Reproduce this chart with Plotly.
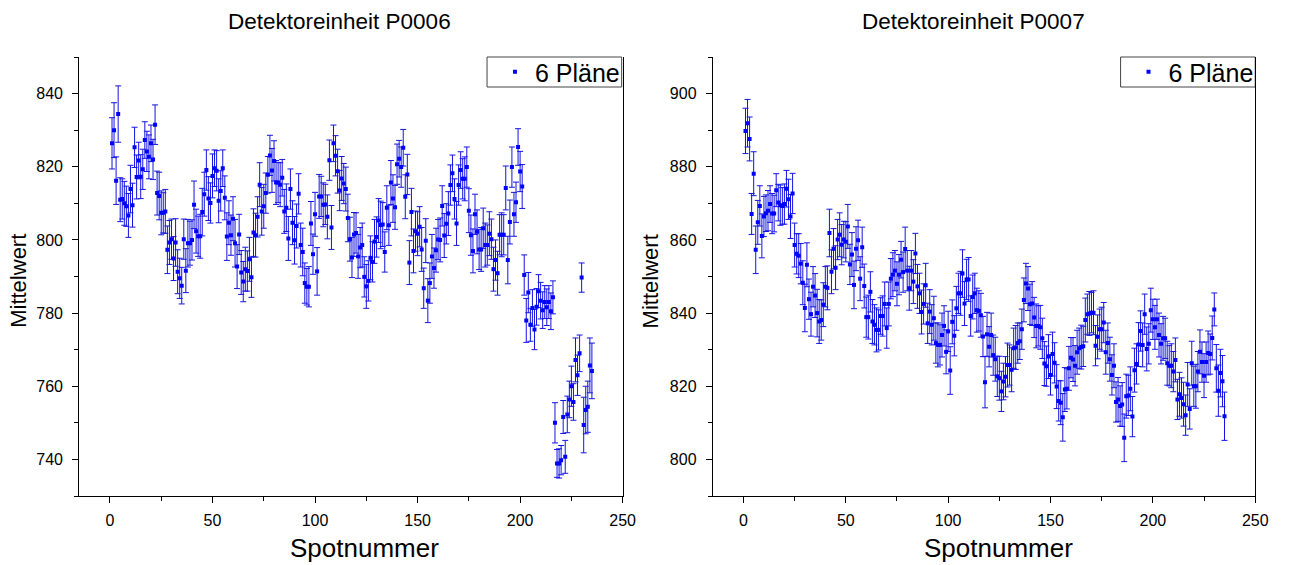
import plotly.graph_objects as go

spots = list(range(1, 236))

p0006_mean = [
    826.4, 830.0, 816.2, 834.4, 811.0, 811.2, 810.0, 809.2, 806.7, 813.9,
    809.5, 825.3, 817.2, 821.7, 817.3, 819.3, 827.3, 824.2, 822.7, 826.4,
    822.0, 831.5, 812.8, 812.0, 807.4, 807.4, 807.8, 797.3, 799.3, 800.2,
    794.9, 799.3, 791.3, 789.5, 787.5, 800.2, 791.6, 799.1, 799.1, 800.0,
    809.6, 802.4, 801.0, 801.0, 807.6, 812.5, 819.1, 811.3, 810.1, 817.5,
    819.6, 818.9, 810.7, 813.4, 819.6, 811.5, 800.9, 804.7, 801.3, 805.8,
    799.1, 792.7, 801.5, 791.1, 788.6, 792.0, 791.5, 794.7, 789.8, 802.0,
    801.3, 806.3, 815.1, 807.8, 809.2, 812.8, 817.8, 823.1, 819.0, 821.6,
    815.7, 815.7, 815.1, 817.0, 807.8, 808.8, 800.4, 813.9, 804.7, 799.9,
    803.8, 812.6, 798.6, 796.7, 788.2, 787.2, 787.2, 804.5, 796.1, 807.0,
    791.4, 811.9, 811.9, 809.6, 809.7, 806.3, 821.8, 803.4, 826.4, 823.0,
    818.8, 813.5, 816.8, 815.4, 813.9, 806.0, 800.2, 795.2, 801.5, 801.9,
    795.5, 797.9, 798.6, 789.9, 787.3, 788.8, 795.1, 794.0, 799.6, 800.8,
    805.3, 804.1, 804.2, 796.7, 808.8, 804.0, 815.7, 811.3, 808.9, 820.7,
    822.2, 819.9, 825.2, 811.8, 817.9, 793.8, 807.6, 797.0, 802.4, 801.7,
    803.6, 797.4, 786.8, 799.8, 783.4, 788.2, 795.5, 792.3, 797.2, 800.1,
    800.0, 809.3, 801.2, 804.4, 807.2, 815.0, 818.2, 811.2, 804.5, 815.0,
    819.1, 816.7, 816.7, 819.9, 808.0, 801.3, 797.0, 807.0, 802.2, 797.4,
    797.4, 803.2, 798.6, 798.6, 801.7, 800.2, 792.0, 794.5, 790.9, 801.4,
    801.4, 801.4, 814.2, 794.5, 804.9, 819.9, 807.0, 810.3, 825.4, 818.7,
    814.6, 790.4, 778.0, 785.6, 776.8, 781.4, 775.5, 781.7, 786.0, 783.4,
    780.8, 783.0, 781.6, 783.0, 780.5, 784.3, 750.0, 738.9, 738.9, 739.8,
    751.6, 740.7, 752.3, 756.4, 760.0, 755.7, 767.2, 763.0, 769.0, 789.7,
    749.4, 753.5, 754.4, 765.7, 764.2,
]

p0006_err = [
    7.0, 7.5, 6.5, 7.7, 6.0, 5.5, 6.0, 5.5, 6.0, 6.5,
    6.0, 5.5, 6.0, 5.0, 6.0, 5.5, 5.0, 5.5, 6.0, 5.0,
    5.5, 5.4, 6.0, 6.5, 6.0, 5.5, 6.0, 6.5, 6.0, 5.5,
    6.0, 6.5, 6.0, 5.5, 5.0, 5.5, 6.0, 6.5, 6.0, 5.5,
    6.5, 6.0, 5.5, 6.0, 6.5, 6.0, 5.5, 6.0, 5.5, 6.0,
    5.0, 5.5, 6.0, 5.5, 5.0, 6.0, 6.5, 6.0, 5.5, 6.0,
    6.5, 6.0, 5.5, 6.0, 5.5, 6.0, 5.5, 6.0, 5.5, 6.5,
    6.0, 5.5, 6.0, 6.5, 6.0, 5.5, 5.0, 5.5, 6.0, 5.5,
    6.0, 5.5, 6.0, 5.0, 6.0, 6.5, 6.0, 5.5, 6.0, 6.5,
    6.0, 5.5, 6.0, 6.5, 5.5, 5.0, 5.5, 6.0, 5.5, 6.0,
    6.5, 6.0, 5.5, 6.0, 5.5, 6.0, 5.5, 6.0, 5.0, 5.5,
    6.0, 5.5, 6.0, 5.5, 6.0, 6.5, 6.0, 5.5, 6.0, 5.5,
    6.0, 5.5, 6.0, 5.5, 6.0, 5.5, 6.0, 5.5, 6.0, 5.5,
    6.0, 6.5, 6.0, 5.5, 6.0, 5.5, 6.0, 6.5, 6.0, 5.5,
    5.0, 5.5, 5.0, 6.0, 5.5, 6.0, 6.5, 6.0, 5.5, 6.0,
    5.5, 6.0, 5.5, 6.0, 6.0, 5.5, 6.0, 5.5, 6.0, 5.5,
    6.0, 5.5, 6.0, 5.5, 6.0, 5.5, 5.0, 5.5, 6.0, 5.5,
    5.0, 5.5, 6.0, 5.5, 6.0, 5.5, 6.0, 5.5, 6.0, 5.5,
    6.0, 5.5, 6.0, 5.5, 6.0, 5.5, 6.0, 5.5, 6.0, 5.5,
    6.0, 5.5, 6.0, 6.5, 6.0, 5.5, 6.0, 5.5, 5.0, 5.5,
    6.0, 5.5, 6.0, 5.5, 4.5, 5.0, 5.5, 5.0, 4.5, 5.0,
    5.0, 4.5, 5.0, 4.5, 5.0, 4.5, 5.5, 3.8, 4.0, 4.0,
    4.5, 4.5, 5.0, 5.0, 5.5, 5.0, 6.0, 5.5, 5.0, 4.0,
    7.6, 6.5, 7.0, 7.5, 7.6,
]

p0007_mean = [
    889.8, 891.9, 887.6, 867.1, 878.1, 857.3, 864.8, 869.3, 861.1, 866.4,
    867.3, 868.0, 869.8, 867.2, 867.2, 873.6, 870.2, 869.5, 869.3, 869.8,
    874.0, 871.1, 866.4, 872.7, 858.6, 856.2, 855.7, 853.5, 848.3, 841.4,
    853.2, 843.8, 839.7, 847.2, 844.8, 840.0, 837.7, 838.1, 842.3, 847.2,
    846.9, 861.9, 851.3, 857.6, 852.4, 860.1, 861.4, 858.7, 860.1, 859.5,
    863.7, 853.3, 856.0, 847.7, 857.6, 859.9, 849.4, 858.0, 847.4, 838.9,
    838.9, 845.8, 837.7, 836.8, 835.4, 835.4, 839.2, 839.2, 842.5, 835.9,
    842.5, 849.4, 850.5, 851.6, 848.0, 850.5, 854.6, 851.2, 857.5, 851.6,
    846.8, 851.6, 848.6, 856.3, 847.3, 845.4, 840.3, 842.5, 847.6, 837.2,
    840.4, 836.8, 838.6, 831.8, 831.3, 831.3, 834.0, 836.5, 829.4, 835.0,
    824.3, 837.6, 833.8, 841.3, 845.4, 845.4, 850.8, 842.6, 849.2, 849.2,
    839.2, 844.4, 845.4, 840.8, 840.6, 839.4, 833.6, 821.1, 834.2, 830.8,
    834.0, 828.5, 827.4, 822.7, 822.2, 818.6, 821.3, 822.6, 825.8, 825.8,
    824.5, 830.4, 830.6, 831.8, 832.3, 835.6, 843.6, 848.1, 846.7, 842.4,
    842.6, 838.8, 836.5, 836.5, 836.1, 833.1, 826.2, 825.5, 828.1, 823.1,
    828.8, 826.4, 819.9, 816.0, 815.5, 811.5, 819.1, 819.3, 824.9, 827.8,
    827.3, 825.6, 829.3, 830.4, 830.7, 830.9, 838.1, 839.7, 839.9, 840.1,
    840.1, 831.1, 833.5, 835.6, 835.6, 837.4, 829.3, 831.8, 827.4, 823.1,
    825.6, 815.7, 816.4, 814.6, 815.0, 805.9, 817.3, 817.5, 819.3, 811.7,
    824.4, 826.1, 831.4, 835.1, 831.3, 839.7, 830.2, 831.6, 840.8, 838.3,
    836.1, 838.3, 834.0, 831.6, 833.1, 833.1, 826.3, 825.6, 825.6, 824.0,
    827.2, 816.4, 817.8, 816.8, 815.1, 812.1, 820.5, 813.8, 826.3, 820.0,
    820.0, 824.0, 829.4, 826.6, 822.9, 826.6, 829.1, 828.8, 833.2, 841.0,
    824.9, 818.8, 823.6, 821.4, 811.8,
]

p0007_err = [
    6.2, 6.5, 6.0, 5.6, 6.0, 6.5, 6.0, 5.5, 6.0, 5.5,
    5.0, 5.5, 5.0, 5.5, 5.0, 4.5, 5.0, 5.5, 5.0, 5.5,
    5.0, 5.5, 6.0, 5.5, 6.0, 5.5, 6.0, 5.5, 6.0, 6.5,
    6.0, 5.5, 6.0, 5.5, 6.0, 6.5, 6.0, 5.5, 6.0, 5.5,
    6.0, 6.5, 6.0, 5.5, 6.0, 5.5, 6.0, 5.5, 5.0, 5.5,
    6.0, 5.5, 6.0, 6.5, 6.0, 5.5, 6.0, 5.5, 6.0, 5.5,
    6.0, 5.5, 6.0, 5.5, 6.0, 5.5, 5.0, 5.5, 6.0, 5.5,
    6.0, 5.5, 6.0, 5.5, 6.0, 5.5, 5.0, 5.5, 6.0, 5.5,
    6.0, 5.5, 6.0, 5.5, 6.0, 5.5, 6.0, 5.5, 6.0, 5.5,
    6.0, 5.5, 6.0, 5.5, 6.0, 5.5, 6.0, 5.5, 6.0, 5.5,
    6.5, 6.0, 5.5, 6.0, 5.5, 6.0, 6.5, 6.0, 5.5, 6.0,
    5.5, 6.0, 5.5, 6.0, 5.5, 6.0, 5.5, 7.0, 6.0, 5.5,
    6.0, 5.5, 6.0, 5.5, 6.0, 5.5, 5.0, 5.5, 6.0, 5.5,
    6.0, 5.5, 6.0, 5.5, 5.0, 5.5, 6.0, 5.5, 6.0, 5.5,
    6.0, 5.5, 6.0, 5.5, 6.0, 5.5, 6.0, 5.5, 6.0, 5.5,
    6.0, 5.5, 6.0, 5.5, 6.0, 6.5, 6.0, 5.5, 6.0, 5.5,
    6.0, 5.5, 6.0, 5.5, 6.0, 5.5, 6.0, 5.5, 6.0, 5.5,
    6.0, 5.5, 6.0, 5.5, 6.0, 5.5, 6.0, 5.5, 6.0, 5.5,
    6.0, 5.5, 6.0, 5.5, 6.0, 6.5, 6.0, 5.5, 6.0, 5.5,
    6.0, 5.5, 6.0, 5.5, 6.0, 5.5, 6.0, 5.5, 6.0, 5.5,
    6.0, 5.5, 6.0, 5.5, 6.0, 5.5, 6.0, 5.5, 6.0, 5.5,
    6.0, 5.5, 6.0, 5.5, 6.0, 5.5, 6.0, 5.5, 6.0, 5.5,
    6.0, 5.5, 6.0, 5.5, 6.0, 5.5, 6.0, 5.5, 6.0, 4.5,
    6.5, 7.0, 6.5, 7.0, 6.6,
]

panel_titles = ["Detektoreinheit P0006", "Detektoreinheit P0007"]
legend_label = "6 Pläne"
x_title = "Spotnummer"
y_title = "Mittelwert"
x_ticks = [0, 50, 100, 150, 200, 250]
y_ticks_left = [740, 760, 780, 800, 820, 840]
y_ticks_right = [800, 820, 840, 860, 880, 900]

FONT = "Liberation Sans, Arial, sans-serif"
W, H = 1290, 565
BLUE = "#0000ff"

fig = go.Figure()

series = [(p0006_mean, p0006_err, "x", "y", "legend"),
          (p0007_mean, p0007_err, "x2", "y2", "legend2")]
for mean, err, xa, ya, lg in series:
    fig.add_trace(go.Scatter(
        x=spots, y=mean, mode="markers", name=legend_label,
        xaxis=xa, yaxis=ya, legend=lg, showlegend=True,
        marker=dict(symbol="square", size=4, color=BLUE, line=dict(width=0)),
        error_y=dict(type="data", array=err, visible=True,
                     color="rgb(20,20,225)", thickness=1, width=3),
    ))

# pixel geometry
L1, R1 = 80, 629
L2, R2 = 720, 1268
TOP, BOT = 57, 496
dom1 = [L1 / W, R1 / W]
dom2 = [L2 / W, R2 / W]
ydom = [(H - BOT) / H, (H - TOP) / H]

axis_common = dict(
    showgrid=False, zeroline=False, showline=True, linecolor="black",
    linewidth=1, ticks="outside", ticklen=6, tickcolor="black",
    tickfont=dict(family=FONT, size=16, color="black"),
)

legend_common = dict(
    yanchor="middle", xanchor="left", bgcolor="rgba(0,0,0,0)",
    borderwidth=0, font=dict(family=FONT, size=25, color="black"),
    itemsizing="trace",
)

fig.update_layout(
    width=W, height=H, margin=dict(l=0, r=0, t=0, b=0),
    plot_bgcolor="white", paper_bgcolor="white",
    font=dict(family=FONT, color="black"),
    xaxis=dict(domain=dom1, range=[-15, 250], tickvals=x_ticks,
               anchor="y", ticklabelstandoff=4, mirror=False,
               minor=dict(ticks="outside", ticklen=4, tickcolor="black",
                          tick0=25, dtick=50),
               **axis_common),
    yaxis=dict(domain=ydom, range=[730, 850], tickvals=y_ticks_left,
               anchor="x", ticklabelstandoff=6, mirror=True,
               minor=dict(ticks="outside", ticklen=4, tickcolor="black",
                          tick0=730, dtick=20),
               **axis_common),
    xaxis2=dict(domain=dom2, range=[-15, 250], tickvals=x_ticks,
                anchor="y2", ticklabelstandoff=4, mirror=False,
                minor=dict(ticks="outside", ticklen=4, tickcolor="black",
                           tick0=25, dtick=50),
                **axis_common),
    yaxis2=dict(domain=ydom, range=[790, 910], tickvals=y_ticks_right,
                anchor="x2", ticklabelstandoff=6, mirror=True,
                minor=dict(ticks="outside", ticklen=4, tickcolor="black",
                           tick0=790, dtick=20),
                **axis_common),
    legend=dict(x=500 / W, y=1 - 72 / H, **legend_common),
    legend2=dict(x=1140 / W, y=1 - 72 / H, **legend_common),
)

# legend frames (pixel boxes flush with the top-right plot corner)
for x0, x1 in [(492, 628), (1132, 1268)]:
    fig.add_shape(type="rect", xref="paper", yref="paper",
                  x0=x0 / W, x1=x1 / W, y0=1 - 87 / H, y1=1 - 57 / H,
                  line=dict(color="#444444", width=1), fillcolor="white",
                  layer="below")

# panel titles and axis titles (pixel positions)
title_cx = [343, 983]
xtitle_cx = [368, 1009]
ytitle_x = [18, 657]
for i in range(2):
    fig.add_annotation(x=title_cx[i] / W, y=1 - 22 / H, xref="paper",
                       yref="paper", text=panel_titles[i], showarrow=False,
                       xanchor="center", yanchor="middle",
                       font=dict(family=FONT, size=22.5, color="black"))
    fig.add_annotation(x=xtitle_cx[i] / W, y=1 - 548 / H, xref="paper",
                       yref="paper", text=x_title, showarrow=False,
                       xanchor="center", yanchor="middle",
                       font=dict(family=FONT, size=26, color="black"))
    fig.add_annotation(x=ytitle_x[i] / W, y=1 - 281 / H, xref="paper",
                       yref="paper", text=y_title, showarrow=False,
                       textangle=-90, xanchor="center", yanchor="middle",
                       font=dict(family=FONT, size=22, color="black"))

fig.write_html("out.html")
